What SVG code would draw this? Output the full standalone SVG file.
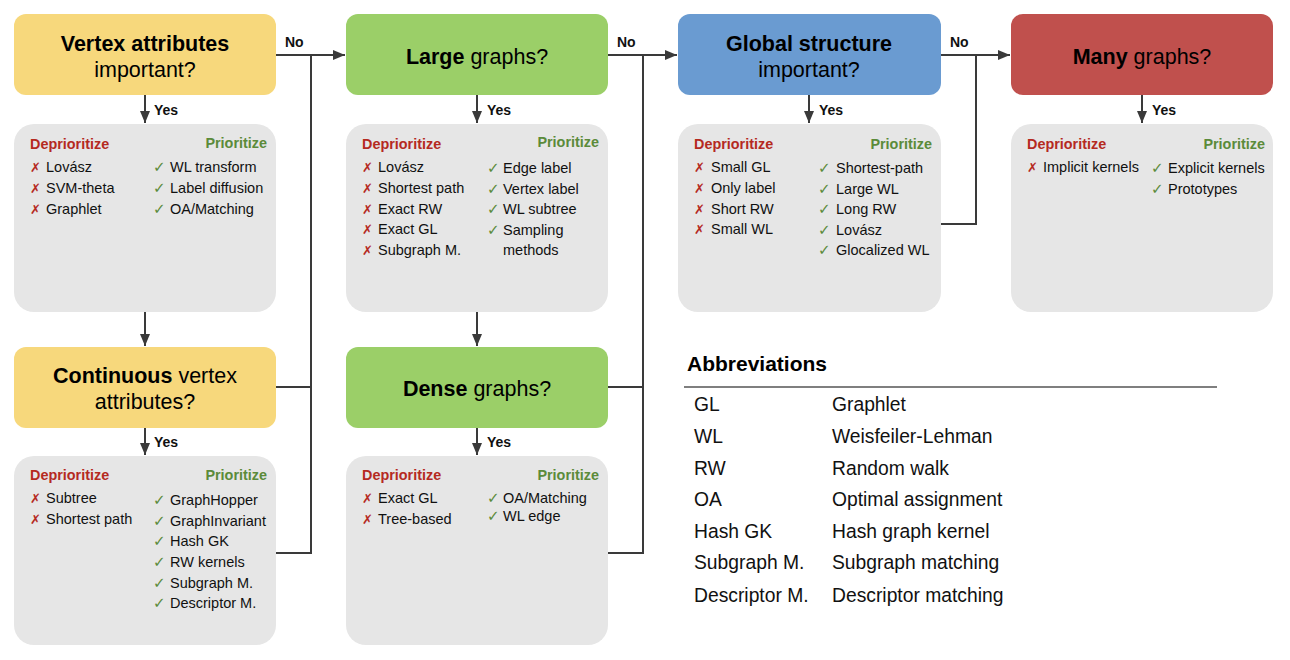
<svg xmlns="http://www.w3.org/2000/svg" width="1290" height="660" viewBox="0 0 1290 660">
<style>
.q{font-family:"Liberation Sans",Arial,sans-serif;font-size:21.5px;fill:#000;text-anchor:middle}
.b{font-weight:bold}
.lbl{font-family:"Liberation Sans",Arial,sans-serif;font-size:14px;font-weight:bold;fill:#111}
.dep{font-family:"Liberation Sans",Arial,sans-serif;font-size:14.4px;font-weight:bold;fill:#b52a1f}
.pri{font-family:"Liberation Sans",Arial,sans-serif;font-size:14.4px;font-weight:bold;fill:#5b8b3a;text-anchor:end}
.it{font-family:"Liberation Sans",Arial,sans-serif;font-size:14.5px;fill:#111}
.x{font-family:"DejaVu Sans",sans-serif;font-size:13px;fill:#b52a1f}
.ck{font-family:"DejaVu Sans",sans-serif;font-size:15px;fill:#5b8b3a}
.ab{font-family:"Liberation Sans",Arial,sans-serif;font-size:19.3px;fill:#111}
.panel{fill:#e6e6e6}
.conn{fill:none;stroke:#3a3a3a;stroke-width:2}
</style>
<defs>
<marker id="ah" markerWidth="12" markerHeight="10" refX="12" refY="5" orient="auto" markerUnits="userSpaceOnUse">
<path d="M0,0 L12,5 L0,10 Z" fill="#3a3a3a"/>
</marker>
</defs>

<g id="connectors">
<path class="conn" d="M145,95 V123" marker-end="url(#ah)"/>
<path class="conn" d="M145,312 V346" marker-end="url(#ah)"/>
<path class="conn" d="M145,428 V455" marker-end="url(#ah)"/>
<path class="conn" d="M276,55 H345" marker-end="url(#ah)"/>
<path class="conn" d="M276,553 H311 V55"/>
<path class="conn" d="M276,387 H311"/>
<path class="conn" d="M477,95 V123" marker-end="url(#ah)"/>
<path class="conn" d="M477,312 V346" marker-end="url(#ah)"/>
<path class="conn" d="M477,428 V455" marker-end="url(#ah)"/>
<path class="conn" d="M608,55 H677" marker-end="url(#ah)"/>
<path class="conn" d="M608,553 H643 V55"/>
<path class="conn" d="M608,387 H643"/>
<path class="conn" d="M809,95 V123" marker-end="url(#ah)"/>
<path class="conn" d="M941,55 H1010" marker-end="url(#ah)"/>
<path class="conn" d="M941,224 H976 V55"/>
<path class="conn" d="M1142,95 V123" marker-end="url(#ah)"/>
<text class="lbl" x="285" y="47">No</text>
<text class="lbl" x="617" y="47">No</text>
<text class="lbl" x="950" y="47">No</text>
<text class="lbl" x="154" y="115">Yes</text>
<text class="lbl" x="487" y="115">Yes</text>
<text class="lbl" x="819" y="115">Yes</text>
<text class="lbl" x="1152" y="115">Yes</text>
<text class="lbl" x="154" y="447">Yes</text>
<text class="lbl" x="487" y="447">Yes</text>
</g>

<g id="q-vertex-attributes">
<rect x="14" y="14" width="262" height="81" rx="12" fill="#f7d87c"/>
<text class="q b" x="145" y="51">Vertex attributes</text>
<text class="q" x="145" y="77">important?</text>
</g>

<g id="q-large-graphs">
<rect x="346" y="14" width="262" height="81" rx="12" fill="#9bcf68"/>
<text class="q" x="477" y="64"><tspan class="b">Large</tspan> graphs?</text>
</g>

<g id="q-global-structure">
<rect x="678" y="14" width="263" height="81" rx="12" fill="#6a9bd1"/>
<text class="q b" x="809" y="51">Global structure</text>
<text class="q" x="809" y="77">important?</text>
</g>

<g id="q-many-graphs">
<rect x="1011" y="14" width="262" height="81" rx="12" fill="#c0504d"/>
<text class="q" x="1142" y="64"><tspan class="b">Many</tspan> graphs?</text>
</g>

<g id="q-continuous">
<rect x="14" y="347" width="262" height="81" rx="12" fill="#f7d87c"/>
<text class="q" x="145" y="383"><tspan class="b">Continuous</tspan> vertex</text>
<text class="q" x="145" y="409">attributes?</text>
</g>

<g id="q-dense-graphs">
<rect x="346" y="347" width="262" height="81" rx="12" fill="#9bcf68"/>
<text class="q" x="477" y="396"><tspan class="b">Dense</tspan> graphs?</text>
</g>

<g id="r-vertex-attributes">
<rect class="panel" x="14" y="124" width="262" height="188" rx="20"/>
<text class="dep" x="30" y="149">Deprioritize</text>
<text class="pri" x="267" y="148">Prioritize</text>
<text class="x" x="30" y="172">✗</text><text class="it" x="46" y="172">Lovász</text>
<text class="x" x="30" y="193">✗</text><text class="it" x="46" y="193">SVM-theta</text>
<text class="x" x="30" y="214">✗</text><text class="it" x="46" y="214">Graphlet</text>
<text class="ck" x="153" y="172">✓</text><text class="it" x="170" y="172">WL transform</text>
<text class="ck" x="153" y="193">✓</text><text class="it" x="170" y="193">Label diffusion</text>
<text class="ck" x="153" y="214">✓</text><text class="it" x="170" y="214">OA/Matching</text>
</g>

<g id="r-large-graphs">
<rect class="panel" x="346" y="124" width="262" height="188" rx="20"/>
<text class="dep" x="362" y="149">Deprioritize</text>
<text class="pri" x="599" y="147">Prioritize</text>
<text class="x" x="362" y="172">✗</text><text class="it" x="378" y="172">Lovász</text>
<text class="x" x="362" y="193">✗</text><text class="it" x="378" y="193">Shortest path</text>
<text class="x" x="362" y="214">✗</text><text class="it" x="378" y="214">Exact RW</text>
<text class="x" x="362" y="234">✗</text><text class="it" x="378" y="234">Exact GL</text>
<text class="x" x="362" y="255">✗</text><text class="it" x="378" y="255">Subgraph M.</text>
<text class="ck" x="487" y="173">✓</text><text class="it" x="503" y="173">Edge label</text>
<text class="ck" x="487" y="194">✓</text><text class="it" x="503" y="194">Vertex label</text>
<text class="ck" x="487" y="214">✓</text><text class="it" x="503" y="214">WL subtree</text>
<text class="ck" x="487" y="235">✓</text><text class="it" x="503" y="235">Sampling</text>
<text class="it" x="503" y="255">methods</text>
</g>

<g id="r-global-structure">
<rect class="panel" x="678" y="124" width="263" height="188" rx="20"/>
<text class="dep" x="694" y="149">Deprioritize</text>
<text class="pri" x="932" y="149">Prioritize</text>
<text class="x" x="694" y="172">✗</text><text class="it" x="711" y="172">Small GL</text>
<text class="x" x="694" y="193">✗</text><text class="it" x="711" y="193">Only label</text>
<text class="x" x="694" y="214">✗</text><text class="it" x="711" y="214">Short RW</text>
<text class="x" x="694" y="234">✗</text><text class="it" x="711" y="234">Small WL</text>
<text class="ck" x="818" y="173">✓</text><text class="it" x="836" y="173">Shortest-path</text>
<text class="ck" x="818" y="194">✓</text><text class="it" x="836" y="194">Large WL</text>
<text class="ck" x="818" y="214">✓</text><text class="it" x="836" y="214">Long RW</text>
<text class="ck" x="818" y="235">✓</text><text class="it" x="836" y="235">Lovász</text>
<text class="ck" x="818" y="255">✓</text><text class="it" x="836" y="255">Glocalized WL</text>
</g>

<g id="r-many-graphs">
<rect class="panel" x="1011" y="124" width="262" height="188" rx="20"/>
<text class="dep" x="1027" y="149">Deprioritize</text>
<text class="pri" x="1265" y="149">Prioritize</text>
<text class="x" x="1027" y="172">✗</text><text class="it" x="1043" y="172">Implicit kernels</text>
<text class="ck" x="1151" y="173">✓</text><text class="it" x="1168" y="173">Explicit kernels</text>
<text class="ck" x="1151" y="194">✓</text><text class="it" x="1168" y="194">Prototypes</text>
</g>

<g id="r-continuous">
<rect class="panel" x="14" y="456" width="262" height="189" rx="20"/>
<text class="dep" x="30" y="480">Deprioritize</text>
<text class="pri" x="267" y="480">Prioritize</text>
<text class="x" x="30" y="503">✗</text><text class="it" x="46" y="503">Subtree</text>
<text class="x" x="30" y="524">✗</text><text class="it" x="46" y="524">Shortest path</text>
<text class="ck" x="153" y="505">✓</text><text class="it" x="170" y="505">GraphHopper</text>
<text class="ck" x="153" y="526">✓</text><text class="it" x="170" y="526">GraphInvariant</text>
<text class="ck" x="153" y="546">✓</text><text class="it" x="170" y="546">Hash GK</text>
<text class="ck" x="153" y="567">✓</text><text class="it" x="170" y="567">RW kernels</text>
<text class="ck" x="153" y="588">✓</text><text class="it" x="170" y="588">Subgraph M.</text>
<text class="ck" x="153" y="608">✓</text><text class="it" x="170" y="608">Descriptor M.</text>
</g>

<g id="r-dense-graphs">
<rect class="panel" x="346" y="456" width="262" height="189" rx="20"/>
<text class="dep" x="362" y="480">Deprioritize</text>
<text class="pri" x="599" y="480">Prioritize</text>
<text class="x" x="362" y="503">✗</text><text class="it" x="378" y="503">Exact GL</text>
<text class="x" x="362" y="524">✗</text><text class="it" x="378" y="524">Tree-based</text>
<text class="ck" x="487" y="503">✓</text><text class="it" x="503" y="503">OA/Matching</text>
<text class="ck" x="487" y="521">✓</text><text class="it" x="503" y="521">WL edge</text>
</g>

<g id="abbreviations">
<text x="687" y="371" font-family="Liberation Sans, Arial, sans-serif" font-size="21" font-weight="bold" fill="#000">Abbreviations</text>
<line x1="684" y1="387" x2="1217" y2="387" stroke="#555" stroke-width="1.5"/>
<text class="ab" x="694" y="411">GL</text><text class="ab" x="832" y="411">Graphlet</text>
<text class="ab" x="694" y="443">WL</text><text class="ab" x="832" y="443">Weisfeiler-Lehman</text>
<text class="ab" x="694" y="475">RW</text><text class="ab" x="832" y="475">Random walk</text>
<text class="ab" x="694" y="506">OA</text><text class="ab" x="832" y="506">Optimal assignment</text>
<text class="ab" x="694" y="538">Hash GK</text><text class="ab" x="832" y="538">Hash graph kernel</text>
<text class="ab" x="694" y="569">Subgraph M.</text><text class="ab" x="832" y="569">Subgraph matching</text>
<text class="ab" x="694" y="602">Descriptor M.</text><text class="ab" x="832" y="602">Descriptor matching</text>
</g>
</svg>
